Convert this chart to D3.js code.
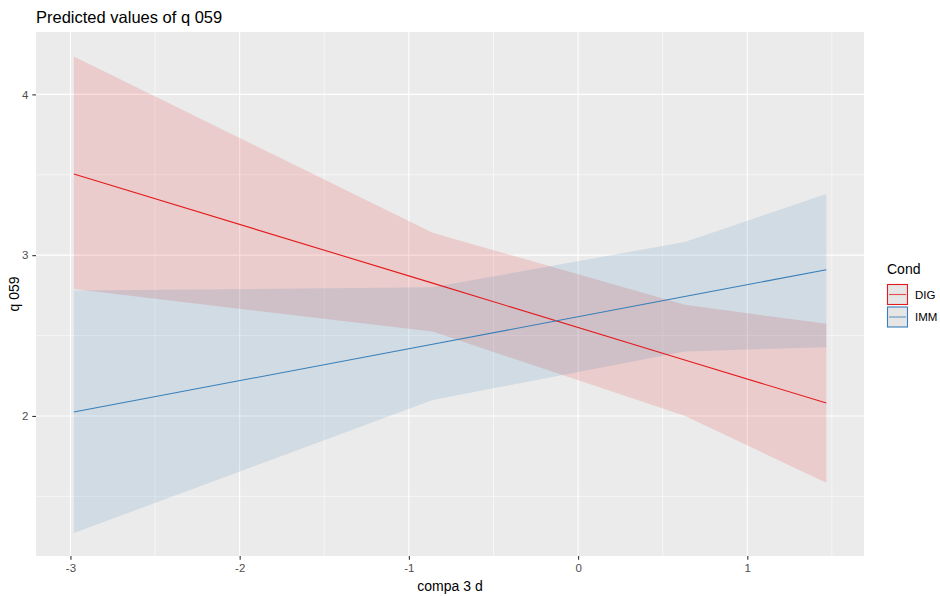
<!DOCTYPE html>
<html>
<head>
<meta charset="utf-8">
<script src="https://cdn.jsdelivr.net/npm/d3@7"></script>
<style>
  body { margin: 0; background: #fff; }
  text { font-family: "Liberation Sans", Arial, sans-serif; }
</style>
</head>
<body>
<div id="chart"></div>
<script>
// predicted values
const xs       = [-2.98, -0.86, 0.63, 1.467];
const digFit   = [3.505, 2.826, 2.348, 2.080];
const digLow   = [2.789, 2.525, 2.001, 1.584];
const digHigh  = [4.235, 3.139, 2.691, 2.573];
const immFit   = [2.025, 2.446, 2.743, 2.909];
const immLow   = [1.272, 2.100, 2.401, 2.428];
const immHigh  = [2.780, 2.800, 3.082, 3.380];

const groups   = ['DIG', 'IMM'];
const colors   = ['#E41A1C', '#377EB8'];
const xBreaks  = [-3, -2, -1, 0, 1];
const yBreaks  = [2, 3, 4];

const width = 940, height = 596;
const panel = { left: 36, right: 864, top: 32, bottom: 556 };

const svg = d3.select('#chart').append('svg')
  .attr('width', width)
  .attr('height', height);

const x = d3.scaleLinear().domain([-3.2035, 1.6895]).range([panel.left, panel.right]);
const y = d3.scaleLinear().domain([1.129, 4.388]).range([panel.bottom, panel.top]);

// panel + grid /////////////////////////////////////////////
svg.append('rect')
  .attr('x', panel.left).attr('y', panel.top)
  .attr('width', panel.right - panel.left)
  .attr('height', panel.bottom - panel.top)
  .attr('fill', '#EBEBEB');

const xMinor = xBreaks.map(d => d + 0.5).filter(d => d > x.domain()[0] && d < x.domain()[1]);
const yMinor = [1.5, 2.5, 3.5];

const grid = svg.append('g').attr('stroke', '#fff');
grid.selectAll('.xminor').data(xMinor).join('line')
  .attr('x1', d => x(d)).attr('x2', d => x(d))
  .attr('y1', panel.top).attr('y2', panel.bottom)
  .attr('stroke-width', 0.55);
grid.selectAll('.yminor').data(yMinor).join('line')
  .attr('y1', d => y(d)).attr('y2', d => y(d))
  .attr('x1', panel.left).attr('x2', panel.right)
  .attr('stroke-width', 0.55);
grid.selectAll('.xmajor').data(xBreaks).join('line')
  .attr('x1', d => x(d)).attr('x2', d => x(d))
  .attr('y1', panel.top).attr('y2', panel.bottom)
  .attr('stroke-width', 1.1);
grid.selectAll('.ymajor').data(yBreaks).join('line')
  .attr('y1', d => y(d)).attr('y2', d => y(d))
  .attr('x1', panel.left).attr('x2', panel.right)
  .attr('stroke-width', 1.1);

// ribbons + lines //////////////////////////////////////////
const series = [
  { key: groups[0], fit: digFit, low: digLow, high: digHigh, color: colors[0] },
  { key: groups[1], fit: immFit, low: immLow, high: immHigh, color: colors[1] }
];

const area = d3.area()
  .x(d => x(d.x))
  .y0(d => y(d.low))
  .y1(d => y(d.high));
const line = d3.line()
  .x(d => x(d.x))
  .y(d => y(d.fit));

const rows = s => xs.map((v, i) => ({ x: v, fit: s.fit[i], low: s.low[i], high: s.high[i] }));

svg.append('g').selectAll('path').data(series).join('path')
  .attr('d', s => area(rows(s)))
  .attr('fill', s => s.color)
  .attr('fill-opacity', 0.15);

svg.append('g').selectAll('path').data(series).join('path')
  .attr('d', s => line(rows(s)))
  .attr('fill', 'none')
  .attr('stroke', s => s.color)
  .attr('stroke-width', 1.1);

// axes //////////////////////////////////////////////////////
const plain = d => String(d);   // ascii hyphen, like R
const xAxis = svg.append('g')
  .attr('transform', `translate(0,${panel.bottom})`)
  .call(d3.axisBottom(x).tickValues(xBreaks).tickSize(3.7).tickPadding(4).tickFormat(plain));
const yAxis = svg.append('g')
  .attr('transform', `translate(${panel.left},0)`)
  .call(d3.axisLeft(y).tickValues(yBreaks).tickSize(3.7).tickPadding(4).tickFormat(plain));

[xAxis, yAxis].forEach(a => {
  a.select('.domain').remove();
  a.selectAll('.tick line').attr('stroke', '#333333').attr('stroke-width', 1.1);
  a.selectAll('.tick text')
    .attr('fill', '#4D4D4D')
    .attr('font-size', 11.5)
    .attr('font-family', '"Liberation Sans", Arial, sans-serif');
});

svg.append('text')
  .attr('x', (panel.left + panel.right) / 2)
  .attr('y', 591)
  .attr('text-anchor', 'middle')
  .attr('font-size', 14)
  .attr('fill', '#000')
  .text('compa 3 d');

svg.append('text')
  .attr('transform', `translate(19,${(panel.top + panel.bottom) / 2}) rotate(-90)`)
  .attr('text-anchor', 'middle')
  .attr('font-size', 14)
  .attr('fill', '#000')
  .text('q 059');

svg.append('text')
  .attr('x', 36)
  .attr('y', 23)
  .attr('font-size', 16.5)
  .attr('fill', '#000')
  .text('Predicted values of q 059');

// legend ////////////////////////////////////////////////////
const legend = svg.append('g').attr('transform', 'translate(887,0)');
legend.append('text')
  .attr('x', 0).attr('y', 274)
  .attr('font-size', 14)
  .text('Cond');

const keys = legend.selectAll('g.key').data(series).join('g')
  .attr('class', 'key')
  .attr('transform', (d, i) => `translate(0,${284 + i * 22.5})`);
keys.append('rect')
  .attr('x', 0.5).attr('y', 0.5)
  .attr('width', 20).attr('height', 20)
  .attr('fill', '#E6E6E6')
  .attr('stroke', d => d.color)
  .attr('stroke-width', 1.1);
keys.append('line')
  .attr('x1', 2).attr('x2', 19)
  .attr('y1', 10.5).attr('y2', 10.5)
  .attr('stroke', d => d.color)
  .attr('stroke-opacity', 0.75)
  .attr('stroke-width', 1.1);
keys.append('text')
  .attr('x', 28).attr('y', 10.5)
  .attr('dy', '0.35em')
  .attr('font-size', 11.5)
  .attr('fill', '#000')
  .text(d => d.key);
</script>
</body>
</html>
